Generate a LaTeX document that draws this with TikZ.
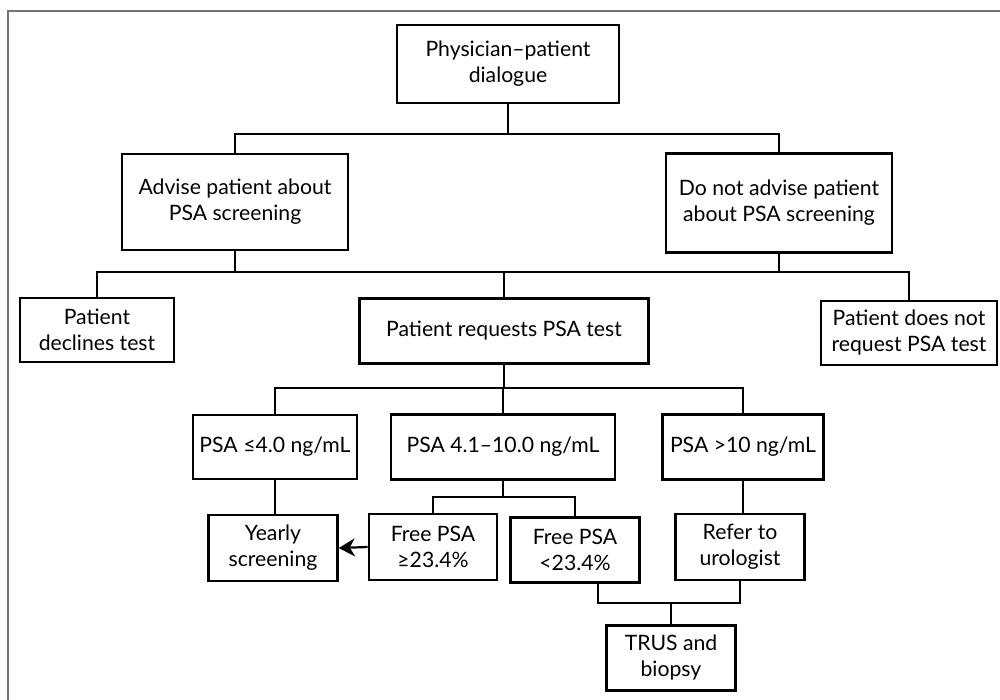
\documentclass[tikz,border=0pt]{standalone}
\usepackage{fontspec}
\setmainfont{Lato}
\usetikzlibrary{arrows.meta}
\begin{document}
\begin{tikzpicture}[x=0.5pt,y=-0.5pt,
  box/.style={draw=black, line width=1.3pt, align=center, inner sep=0pt,
    font=\fontsize{10.6}{13}\selectfont},
  conn/.style={draw=black, line width=1.1pt},
  frame/.style={draw=black!55, line width=1.2pt}]
\useasboundingbox (0,0) rectangle (1000,700);
\draw[frame] (8,700) -- (8,11) -- (1000,11);

% nodes
\node[box, minimum width=111pt, minimum height=39pt] (top) at (508,64) {Physician--patient\\dialogue};
\node[box, minimum width=113pt, minimum height=48pt] (adv) at (235,202) {Advise patient about\\PSA screening};
\node[box, minimum width=113pt, minimum height=49.5pt] (dna) at (779,203) {Do not advise patient\\about PSA screening};
\node[box, minimum width=77pt, minimum height=32pt] (dec) at (97,330) {Patient\\declines test};
\node[box, minimum width=144.5pt, minimum height=32.5pt] (req) at (504,331) {Patient requests PSA test};
\node[box, minimum width=88pt, minimum height=32pt] (dnr) at (909,333) {Patient does not\\request PSA test};
\node[box, minimum width=82pt, minimum height=32pt] (p4) at (275,447) {PSA ≤4.0 ng/mL};
\node[box, minimum width=112pt, minimum height=32.5pt] (p410) at (503,447) {PSA 4.1--10.0 ng/mL};
\node[box, minimum width=80.5pt, minimum height=32.5pt] (p10) at (743,447) {PSA >10 ng/mL};
\node[box, minimum width=64.5pt, minimum height=33pt] (yr) at (273,548) {Yearly\\screening};
\node[box, minimum width=64pt, minimum height=33pt] (fge) at (433,547) {Free PSA\\≥23.4\%};
\node[box, minimum width=64.5pt, minimum height=32.5pt] (flt) at (575,550) {Free PSA\\<23.4\%};
\node[box, minimum width=64.5pt, minimum height=33pt] (ref) at (740,547) {Refer to\\urologist};
\node[box, minimum width=64.5pt, minimum height=32.5pt] (trus) at (671,658) {TRUS and\\biopsy};

% junction levels
\coordinate (j1) at (0,134);
\coordinate (j2) at (0,272);
\coordinate (j3) at (0,388);
\coordinate (j4) at (0,497);
\coordinate (j5) at (0,603);
\coordinate (fltout) at (598,0);

% level 1
\draw[conn] (top.south) -- (top.south |- j1);
\draw[conn] (adv.north) |- (dna.north |- j1) -- (dna.north);
% level 2
\draw[conn] (adv.south) -- (adv.south |- j2);
\draw[conn] (dna.south) -- (dna.south |- j2);
\draw[conn] (dec.north) |- (dnr.north |- j2) -- (dnr.north);
\draw[conn] (req.north) -- (req.north |- j2);
% level 3
\draw[conn] (req.south) -- (req.south |- j3);
\draw[conn] (p4.north) |- (p10.north |- j3) -- (p10.north);
\draw[conn] (p410.north) -- (p410.north |- j3);
% level 4
\draw[conn] (p4.south) -- (p4.south |- yr.north);
\draw[conn] (p410.south) -- (p410.south |- j4);
\draw[conn] (fge.north) |- (flt.north |- j4) -- (flt.north);
\draw[conn] (p10.south) -- (p10.south |- ref.north);
\draw[conn, -{Stealth[length=8pt,width=9pt,inset=2.5pt]}] (fge.west) -- (yr.east);
% level 5
\draw[conn] (fltout |- flt.south) |- (ref.south |- j5) -- (ref.south);
\draw[conn] (trus.north) -- (trus.north |- j5);
\end{tikzpicture}
\end{document}
